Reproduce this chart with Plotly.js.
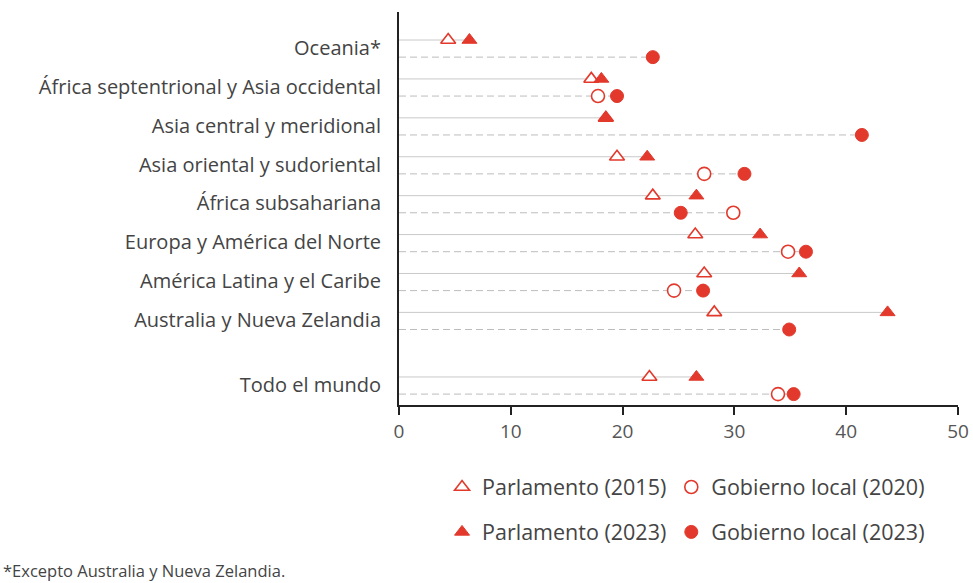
<!DOCTYPE html>
<html><head><meta charset="utf-8">
<script src="https://cdn.plot.ly/plotly-3.0.1.min.js"></script>
<style>html,body{margin:0;padding:0;background:#fff}#chart{width:973px;height:583px}</style>
</head><body><div id="chart"></div>
<script>
// ---- data ----
const categories = ['Oceania*', 'África septentrional y Asia occidental', 'Asia central y meridional',
  'Asia oriental y sudoriental', 'África subsahariana', 'Europa y América del Norte',
  'América Latina y el Caribe', 'Australia y Nueva Zelandia', 'Todo el mundo'];
const parlamento2015 = [4.4, 17.2, 18.5, 19.5, 22.7, 26.5, 27.3, 28.2, 22.4];
const parlamento2023 = [6.3, 18.1, 18.5, 22.2, 26.6, 32.3, 35.8, 43.7, 26.6];
const local2020 = [null, 17.8, null, 27.3, 29.9, 34.8, 24.6, null, 33.9];
const local2023 = [22.7, 19.5, 41.4, 30.9, 25.2, 36.4, 27.2, 34.9, 35.3];
const xTicks = [0, 10, 20, 30, 40, 50];
const legendNames = ['Parlamento (2015)', 'Gobierno local (2020)', 'Parlamento (2023)', 'Gobierno local (2023)'];
const footnote = '*Excepto Australia y Nueva Zelandia.';

// ---- layout helpers ----
const RED = '#e2392c';
const WORLD_GAP = 1.66, LOCAL_OFF = 0.44, LABEL_OFF = 0.2;
const n = categories.length;
function rowPos(i) { return i < n - 1 ? i : (n - 2) + WORLD_GAP; }
const parlY = categories.map((c, i) => rowPos(i));
const localY = categories.map((c, i) => rowPos(i) + LOCAL_OFF);
const labelY = categories.map((c, i) => rowPos(i) + LABEL_OFF);

function segs(a, b, ys) {
  const xs = [], yy = [];
  for (let i = 0; i < n; i++) {
    const vals = [a[i], b[i]].filter(v => v !== null);
    xs.push(0, Math.max(...vals), null);
    yy.push(ys[i], ys[i], null);
  }
  return {x: xs, y: yy};
}
const sP = segs(parlamento2015, parlamento2023, parlY);
const sL = segs(local2020, local2023, localY);

const traces = [
  {x: sP.x, y: sP.y, mode: 'lines', line: {color: '#c9c9c9', width: 1}, showlegend: false, hoverinfo: 'skip'},
  {x: sL.x, y: sL.y, mode: 'lines', line: {color: '#bdbdbd', width: 1, dash: '7px,4px'}, showlegend: false, hoverinfo: 'skip'},
  {x: parlamento2015, y: parlY, mode: 'markers', name: legendNames[0], legend: 'legend',
   marker: {symbol: 'triangle-up', size: 13, color: '#ffffff', line: {color: RED, width: 1.6}}},
  {x: local2020, y: localY, mode: 'markers', name: legendNames[1], legend: 'legend',
   marker: {symbol: 'circle', size: 13, color: '#ffffff', line: {color: RED, width: 1.6}}},
  {x: parlamento2023, y: parlY, mode: 'markers', name: legendNames[2], legend: 'legend2',
   marker: {symbol: 'triangle-up', size: 13, color: RED, line: {color: RED, width: 1}}},
  {x: local2023, y: localY, mode: 'markers', name: legendNames[3], legend: 'legend2',
   marker: {symbol: 'circle', size: 13, color: RED, line: {color: RED, width: 1}}}
];

const FONT = 'Open Sans, sans-serif';
const legendCommon = {orientation: 'h', xanchor: 'left', yanchor: 'middle', x: 0.077,
  font: {family: FONT, size: 21.5, color: '#444'},
  bgcolor: 'rgba(0,0,0,0)', traceorder: 'normal', itemwidth: 30};

const layout = {
  width: 973, height: 583,
  margin: {l: 399, r: 15, t: 12, b: 178},
  paper_bgcolor: '#fff', plot_bgcolor: '#fff',
  font: {family: FONT, color: '#444'},
  xaxis: {range: [0, 50], tickvals: xTicks, ticktext: xTicks.map(String), showgrid: false, zeroline: false,
    showline: true, linecolor: '#222', linewidth: 2, ticks: 'outside', ticklen: 8, tickwidth: 2, tickcolor: '#222',
    tickfont: {family: FONT, size: 19, color: '#555'}, fixedrange: true},
  yaxis: {range: [9.38, -0.72], tickvals: labelY, ticktext: categories, showgrid: false, zeroline: false,
    showline: true, linecolor: '#222', linewidth: 2, ticks: '', ticklabelstandoff: 12,
    tickfont: {family: FONT, size: 20, color: '#444'}, fixedrange: true},
  legend: Object.assign({}, legendCommon, {y: -0.2087}),
  legend2: Object.assign({}, legendCommon, {y: -0.323}),
  annotations: [{text: footnote, xref: 'paper', yref: 'paper', x: -0.712, y: -0.42, xanchor: 'left', yanchor: 'middle',
    showarrow: false, font: {family: FONT, size: 16.5, color: '#444'}}]
};

Plotly.newPlot('chart', traces, layout, {displayModeBar: false, staticPlot: true});
</script></body></html>
